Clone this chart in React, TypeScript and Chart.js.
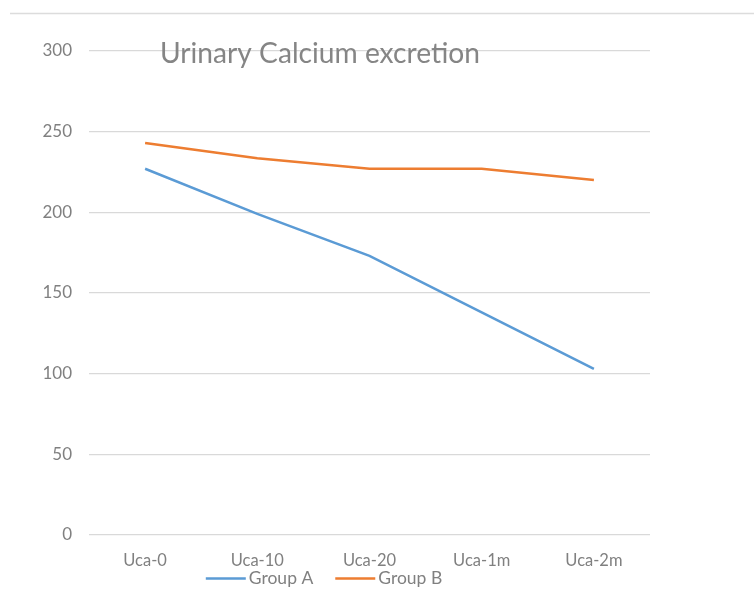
import React, { useEffect, useRef } from "react";
import { Chart, registerables } from "chart.js";

Chart.register(...registerables);

const categories = ["Uca-0", "Uca-10", "Uca-20", "Uca-1m", "Uca-2m"];
const groupA = [227, 199, 173, 138, 103];
const groupB = [243, 233.5, 227, 227, 220];
const yTicks = [0, 50, 100, 150, 200, 250, 300];
const titleText = "Urinary Calcium excretion";

const FONT = "Lato";
const TEXT = "#808080";

const decorPlugin = {
  id: "decor",
  beforeDraw(chart: any) {
    const ctx = chart.ctx;
    ctx.save();
    ctx.strokeStyle = "#dcdcdc";
    ctx.lineWidth = 1.5;
    ctx.beginPath();
    ctx.moveTo(10, 13.5);
    ctx.lineTo(chart.width, 13.5);
    ctx.stroke();
    ctx.restore();
  },
  afterDraw(chart: any) {
    const ctx = chart.ctx;
    ctx.save();
    // title, placed inside the plot like the original
    ctx.fillStyle = "#858585";
    ctx.font = `28.2px ${FONT}`;
    ctx.textAlign = "left";
    ctx.textBaseline = "alphabetic";
    ctx.fillText(titleText, 160, 63);

    // legend below the category labels
    const lineW = 40;
    const gap = 3;
    const itemGap = 22;
    const centerX = 324;
    const y = 578.5;
    ctx.font = `17.5px ${FONT}`;
    ctx.textBaseline = "middle";
    const items = chart.data.datasets.map((ds: any) => ({
      label: ds.label,
      color: ds.borderColor,
      width: ds.borderWidth,
      textW: ctx.measureText(ds.label).width,
    }));
    const total =
      items.reduce((s: number, it: any) => s + lineW + gap + it.textW, 0) +
      itemGap * (items.length - 1);
    let x = centerX - total / 2;
    for (const it of items) {
      ctx.strokeStyle = it.color;
      ctx.lineWidth = it.width;
      ctx.beginPath();
      ctx.moveTo(x, y);
      ctx.lineTo(x + lineW, y);
      ctx.stroke();
      ctx.fillStyle = TEXT;
      ctx.fillText(it.label, x + lineW + gap, y);
      x += lineW + gap + it.textW + itemGap;
    }
    ctx.restore();
  },
};

export default function App() {
  const ref = useRef<HTMLCanvasElement>(null);
  useEffect(() => {
    document.body.style.margin = "0";
    const chart = new Chart(ref.current!, {
      type: "line",
      data: {
        labels: categories,
        datasets: [
          {
            label: "Group A",
            data: groupA,
            borderColor: "#5b9bd5",
            backgroundColor: "#5b9bd5",
            borderWidth: 2.5,
            pointRadius: 0,
            tension: 0,
          },
          {
            label: "Group B",
            data: groupB,
            borderColor: "#ed7d31",
            backgroundColor: "#ed7d31",
            borderWidth: 2.5,
            pointRadius: 0,
            tension: 0,
          },
        ],
      },
      options: {
        animation: false,
        responsive: false,
        layout: { padding: { left: 0, right: 104, top: 51, bottom: 0 } },
        plugins: {
          title: { display: false },
          tooltip: { enabled: false },
          legend: { display: false },
        },
        scales: {
          x: {
            offset: true,
            grid: { display: false, drawTicks: false },
            border: { display: false },
            ticks: {
              color: TEXT,
              font: { family: FONT, size: 16.5 },
              padding: 16,
              maxRotation: 0,
              autoSkip: false,
            },
            afterFit: (s: any) => {
              s.height = 56;
            },
          },
          y: {
            min: 0,
            max: 300,
            afterBuildTicks: (s: any) => {
              s.ticks = yTicks.map((v) => ({ value: v }));
            },
            grid: { color: "#d9d9d9", lineWidth: 1.3, drawTicks: false },
            border: { display: false },
            ticks: {
              color: TEXT,
              font: { family: FONT, size: 17 },
              padding: 17,
            },
            afterFit: (s: any) => {
              s.width = 89;
            },
          },
        },
      },
      plugins: [decorPlugin],
    });
    return () => chart.destroy();
  }, []);
  return <canvas ref={ref} width={754} height={591} style={{ display: "block" }} />;
}
